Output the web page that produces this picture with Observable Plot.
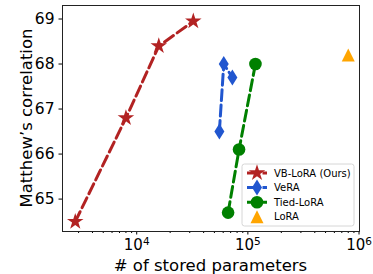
<!DOCTYPE html>
<html><head><meta charset="utf-8">
<script src="https://cdn.jsdelivr.net/npm/d3@7"></script>
<script src="https://cdn.jsdelivr.net/npm/@observablehq/plot@0.6"></script>
<style>body{margin:0;background:#fff;} svg{font-family:"DejaVu Sans";}</style>
</head><body><div id="chart"></div>
<script>
// data
const seriesNames = ["VB-LoRA (Ours)", "VeRA", "Tied-LoRA", "LoRA"];
const seriesColors = ["#b22222", "#2156cf", "#008000", "#ffa500"];
const vbX = [2800, 8000, 15800, 32300];
const vbY = [64.5, 66.8, 68.4, 68.95];
const veraX = [55400, 60700, 72600];
const veraY = [66.5, 68.0, 67.7];
const tiedX = [66400, 83300, 117000];
const tiedY = [64.7, 66.1, 68.0];
const loraX = [800000];
const loraY = [68.2];
const yTicks = [65, 66, 67, 68, 69];
const xMajor = [1e4, 1e5, 1e6];
const xMajorExp = ["4", "5", "6"];
const xMinor = [3000,4000,5000,6000,7000,8000,9000,20000,30000,40000,50000,60000,70000,80000,90000,200000,300000,400000,500000,600000,700000,800000,900000];

const star = d3.symbolStar;
const thinDiamond = {draw(c, size){ const r = Math.sqrt(size/Math.PI); c.moveTo(0,-r*1.6); c.lineTo(r,0); c.lineTo(0,r*1.6); c.lineTo(-r,0); c.closePath(); }};
const circle = d3.symbolCircle;
const triangle = {draw(c, size){ const r = Math.sqrt(size/Math.PI); c.moveTo(0,-r); c.lineTo(r,r); c.lineTo(-r,r); c.closePath(); }};
const symbols = [star, thinDiamond, circle, triangle];
const radii = [5.2, 5, 6.3, 6.5];

const xs = [vbX, veraX, tiedX, loraX], ys = [vbY, veraY, tiedY, loraY];
const series = xs.map((X, i) => X.map((x, j) => ({x, y: ys[i][j], s: i})));

const W = 373, H = 274, mL = 62, mR = 14, mT = 5, mB = 43;
const marks = [];
series.forEach((d, i) => {
  if (d.length > 1) marks.push(Plot.line(d, {x: "x", y: "y", stroke: seriesColors[i], strokeWidth: 3, strokeDasharray: "11,4.5"}));
  marks.push(Plot.dot(d, {x: "x", y: "y", fill: seriesColors[i], stroke: "none", symbol: symbols[i], r: radii[i]}));
});

const plot = Plot.plot({
  width: W, height: H, marginLeft: mL, marginRight: mR, marginTop: mT, marginBottom: mB,
  style: {fontFamily: "DejaVu Sans", background: "#fff", color: "#000"},
  x: {type: "log", domain: [2150, 1.01e6]},
  y: {domain: [64.28, 69.3]},
  marks: [
    Plot.axisY({ticks: yTicks, tickFormat: d => String(d), tickSize: 3.5, tickPadding: 4.5, fontSize: 15.5, label: null}),
    Plot.axisX({ticks: xMinor, tickFormat: () => "", tickSize: 2, label: null}),
    Plot.axisX({ticks: xMajor, tickFormat: d => "10^" + xMajorExp[xMajor.indexOf(d)], tickSize: 3.5, tickPadding: 4, fontSize: 15, label: null}),
    ...marks,
    Plot.frame({stroke: "#222", strokeWidth: 1})
  ]
});
document.getElementById("chart").appendChild(plot);

const svg = d3.select(plot);
// superscript exponents on the log-axis labels
svg.selectAll("text").each(function() {
  const t = d3.select(this);
  const m = /^10\^(\d)$/.exec(t.text());
  if (m) {
    t.text("10");
    t.append("tspan").attr("dy", "-0.45em").attr("font-size", "0.7em").text(m[1]);
  }
});
svg.append("text").attr("x", (mL + W - mR) / 2).attr("y", 271).attr("text-anchor", "middle")
  .attr("font-size", 16.5).attr("fill", "#000").text("# of stored parameters");
svg.append("text").attr("transform", `translate(32,${(mT + H - mB) / 2}) rotate(-90)`).attr("text-anchor", "middle")
  .attr("font-size", 16.5).attr("fill", "#000").text("Matthew’s correlation");

// legend
const lg = svg.append("g").attr("transform", "translate(242,164)");
lg.append("rect").attr("width", 112).attr("height", 62).attr("rx", 2.5).attr("fill", "#fff").attr("fill-opacity", 0.8).attr("stroke", "#ccc").attr("stroke-width", 0.8);
seriesNames.forEach((name, i) => {
  const y = 9 + i * 14.6;
  if (i < 3) lg.append("line").attr("x1", 5).attr("x2", 25).attr("y1", y).attr("y2", y)
    .attr("stroke", seriesColors[i]).attr("stroke-width", 3).attr("stroke-dasharray", "11,4.5");
  lg.append("path").attr("transform", `translate(15,${y})`)
    .attr("d", d3.symbol(symbols[i], Math.PI * radii[i] * radii[i])()).attr("fill", seriesColors[i]);
  lg.append("text").attr("x", 32).attr("y", y).attr("text-anchor", "start").attr("dominant-baseline", "central").attr("font-size", 10).attr("fill", "#000").text(name);
});
</script></body></html>
